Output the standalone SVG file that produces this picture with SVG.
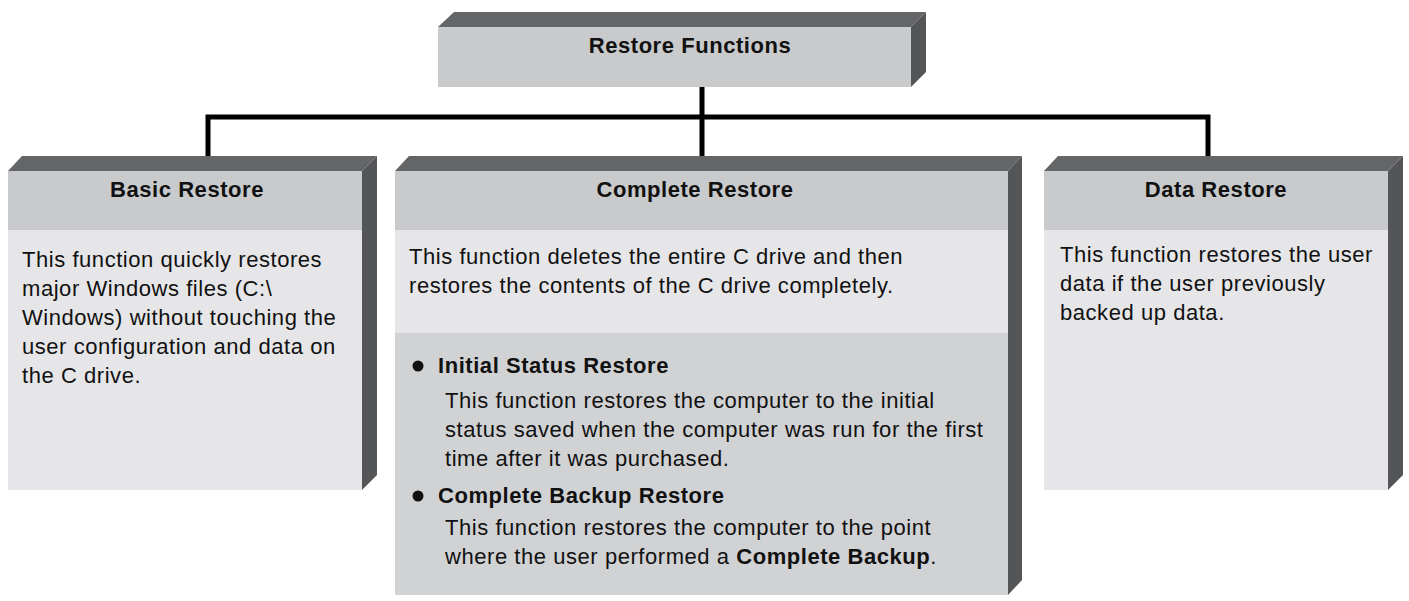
<svg xmlns="http://www.w3.org/2000/svg" width="1409" height="601" viewBox="0 0 1409 601">
<style>
text{font-family:"Liberation Sans",Arial,sans-serif;font-size:22px;letter-spacing:0.55px;fill:#111}
.h{font-weight:bold;text-anchor:middle}
.b{font-weight:bold}
.top{fill:#646567}.side{fill:#545557}
.hd{fill:#c9cacc}.lt{fill:#e6e6e8}.dk{fill:#d1d2d4}
.ln{stroke:#000;stroke-width:5;fill:none}
</style>
<rect width="1409" height="601" fill="#fff"/>
<g id="connectors">
<path class="ln" d="M208,159V117H1208V159M702,87V159"/>
</g>
<g id="root">
<polygon class="top" points="438,27 454,12 926,12 911,27"/>
<polygon class="side" points="911,27 926,12 926,72 911,87"/>
<rect class="hd" x="438" y="27" width="473" height="60"/>
<text class="h" x="690" y="53">Restore Functions</text>
</g>
<g id="basic">
<polygon class="top" points="8,171 22,156 377,156 362,171"/>
<polygon class="side" points="362,171 377,156 377,475 362,490"/>
<rect class="hd" x="8" y="171" width="354" height="59"/>
<rect class="lt" x="8" y="230" width="354" height="260"/>
<text class="h" x="187" y="197">Basic Restore</text>
<text x="22" y="267">This function quickly restores</text>
<text x="22" y="296">major Windows files (C:\</text>
<text x="22" y="325">Windows) without touching the</text>
<text x="22" y="354">user configuration and data on</text>
<text x="22" y="383">the C drive.</text>
</g>
<g id="complete">
<polygon class="top" points="395,171 409,156 1022,156 1008,171"/>
<polygon class="side" points="1008,171 1022,156 1022,580 1008,595"/>
<rect class="hd" x="395" y="171" width="613" height="59"/>
<rect class="lt" x="395" y="230" width="613" height="103"/>
<rect class="dk" x="395" y="333" width="613" height="262"/>
<text class="h" x="695" y="197">Complete Restore</text>
<text x="409" y="264">This function deletes the entire C drive and then</text>
<text x="409" y="293">restores the contents of the C drive completely.</text>
<circle cx="418" cy="366" r="5.5" fill="#111"/>
<text class="b" x="438" y="373">Initial Status Restore</text>
<text x="445" y="408">This function restores the computer to the initial</text>
<text x="445" y="437">status saved when the computer was run for the first</text>
<text x="445" y="466">time after it was purchased.</text>
<circle cx="418" cy="496" r="5.5" fill="#111"/>
<text class="b" x="438" y="503">Complete Backup Restore</text>
<text x="445" y="535">This function restores the computer to the point</text>
<text x="445" y="564">where the user performed a <tspan class="b">Complete Backup</tspan>.</text>
</g>
<g id="data">
<polygon class="top" points="1044,171 1058,156 1403,156 1388,171"/>
<polygon class="side" points="1388,171 1403,156 1403,475 1388,490"/>
<rect class="hd" x="1044" y="171" width="344" height="59"/>
<rect class="lt" x="1044" y="230" width="344" height="260"/>
<text class="h" x="1216" y="197">Data Restore</text>
<text x="1060" y="262">This function restores the user</text>
<text x="1060" y="291">data if the user previously</text>
<text x="1060" y="320">backed up data.</text>
</g>
</svg>
